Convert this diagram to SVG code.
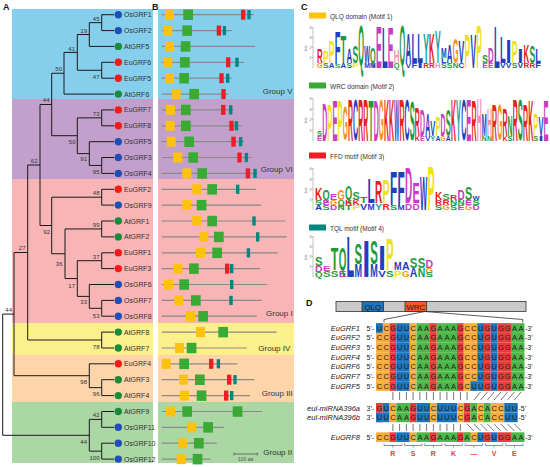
<svg xmlns="http://www.w3.org/2000/svg" xmlns:xlink="http://www.w3.org/1999/xlink" width="550" height="467" viewBox="0 0 550 467">
<style>
text{font-family:"Liberation Sans",Arial,sans-serif}
.pl{font-size:9px;font-weight:bold;fill:#111}
.bs{font-size:6px;fill:#333;text-anchor:end}
.lf{font-size:7px;fill:#333}
.br{fill:none;stroke:#1a1a1a;stroke-width:1}
.gl{font-size:8px;fill:#333}
.ml{stroke:#8a8a8a;stroke-width:1.2}
.my{fill:#fdc20e}.mg{fill:#3aaa35}.mr{fill:#ee1c25}.mt{fill:#00877f}
.db{fill:#1f4fb5}.dr{fill:#f31a1a}.dg{fill:#1b8a3a}
.L{font-size:10px;font-weight:bold}
.cb{fill:#1f3fbf}.cg{fill:#1e9a3c}.cr{fill:#e3231c}.cm{fill:#c93cc0}.cy{fill:#eee21a}.co{fill:#f39321}.ct{fill:#16a2a2}.cp{fill:#f48fb8}
.ax{stroke:#666;stroke-width:0.4}
.at{font-size:3.5px;fill:#666}
.lg{font-size:6.5px;fill:#333}
.nA{fill:#4cb848}.nC{fill:#f9ae3b}.nG{fill:#ec3a3a}.nU{fill:#1b75bc}
.nt{font-size:7.5px;fill:#222;text-anchor:middle}
.rl{font-size:7.5px;font-style:italic;fill:#222;text-anchor:end}
.pr{font-size:7px;fill:#222}
.pair{stroke:#555;stroke-width:0.8}
.brk{fill:none;stroke:#3a87c8;stroke-width:0.8}
.aa{font-size:7px;font-weight:bold;fill:#e63a2e;text-anchor:middle}
</style>
<defs>
<g id="base">
<rect class="nC" x="376" y="0" width="13.5" height="9.67"/>
<rect class="nG" x="389.5" y="0" width="6.75" height="9.67"/>
<rect class="nU" x="396.25" y="0" width="13.5" height="9.67"/>
<rect class="nC" x="409.75" y="0" width="6.75" height="9.67"/>
<rect class="nA" x="416.5" y="0" width="13.5" height="9.67"/>
<rect class="nG" x="430" y="0" width="6.75" height="9.67"/>
<rect class="nA" x="436.75" y="0" width="20.25" height="9.67"/>
<rect class="nG" x="457" y="0" width="6.75" height="9.67"/>
<rect class="nC" x="463.75" y="0" width="13.5" height="9.67"/>
<rect class="nU" x="477.25" y="0" width="6.75" height="9.67"/>
<rect class="nG" x="484" y="0" width="6.75" height="9.67"/>
<rect class="nU" x="490.75" y="0" width="6.75" height="9.67"/>
<rect class="nG" x="497.5" y="0" width="13.5" height="9.67"/>
<rect class="nA" x="511" y="0" width="13.5" height="9.67"/>
<text class="nt" x="379.4 386.1 392.9 399.6 406.4 413.1 419.9 426.6 433.4 440.1 446.9 453.6 460.4 467.1 473.9 480.6 487.4 494.1 500.9 507.6 514.4 521.1" y="7.5">CCGUUCAAGAAAGCCUGUGGAA</text>
</g>
<g id="mir">
<rect class="nG" x="376" y="0" width="6.75" height="9.6"/>
<rect class="nU" x="382.75" y="0" width="6.75" height="9.6"/>
<rect class="nC" x="389.5" y="0" width="6.75" height="9.6"/>
<rect class="nA" x="396.25" y="0" width="13.5" height="9.6"/>
<rect class="nG" x="409.75" y="0" width="6.75" height="9.6"/>
<rect class="nU" x="416.5" y="0" width="13.5" height="9.6"/>
<rect class="nC" x="430" y="0" width="6.75" height="9.6"/>
<rect class="nU" x="436.75" y="0" width="20.25" height="9.6"/>
<rect class="nC" x="457" y="0" width="6.75" height="9.6"/>
<rect class="nG" x="463.75" y="0" width="6.75" height="9.6"/>
<rect class="nA" x="470.5" y="0" width="6.75" height="9.6"/>
<rect class="nC" x="477.25" y="0" width="6.75" height="9.6"/>
<rect class="nA" x="484" y="0" width="6.75" height="9.6"/>
<rect class="nC" x="490.75" y="0" width="13.5" height="9.6"/>
<rect class="nU" x="504.25" y="0" width="13.5" height="9.6"/>
<text class="nt" x="379.4 386.1 392.9 399.6 406.4 413.1 419.9 426.6 433.4 440.1 446.9 453.6 460.4 467.1 473.9 480.6 487.4 494.1 500.9 507.6 514.4" y="7.5">GUCAAGUUCUUUCGACACCUU</text>
</g>
</defs>

<!-- background bands -->
<g id="bands">
<rect x="12" y="9" width="141" height="90" fill="#86cfec"/>
<rect x="12" y="99" width="141" height="80" fill="#c3a0cc"/>
<rect x="12" y="179" width="141" height="144" fill="#f9b5b6"/>
<rect x="12" y="323" width="141" height="32" fill="#fbf08c"/>
<rect x="12" y="355" width="141" height="47" fill="#fdd5a8"/>
<rect x="12" y="402" width="141" height="61" fill="#aad7a4"/>
<rect x="158" y="9" width="136" height="90" fill="#86cfec"/>
<rect x="158" y="99" width="136" height="80" fill="#c3a0cc"/>
<rect x="158" y="179" width="136" height="144" fill="#f9b5b6"/>
<rect x="158" y="323" width="136" height="32" fill="#fbf08c"/>
<rect x="158" y="355" width="136" height="47" fill="#fdd5a8"/>
<rect x="158" y="402" width="136" height="61" fill="#aad7a4"/>
</g>

<g id="panel-labels">
<text class="pl" x="3" y="10">A</text>
<text class="pl" x="152" y="10">B</text>
<text class="pl" x="301" y="10">C</text>
<text class="pl" x="306" y="306">D</text>
</g>

<!-- tree connectors -->
<g id="tree-branches" class="br">
<path d="M114 14.7H101.7V30.6H114"/>
<path d="M101.7 22.65H89.3V46.4H114"/>
<path d="M114 62.3H101.7V78.2H114"/>
<path d="M89.3 34.5H77.3V70.25H101.7"/>
<path d="M77.3 52.4H64V94.1H114"/>
<path d="M114 109.9H101.7V125.8H114"/>
<path d="M114 157.5H101.7V173.4H114"/>
<path d="M114 141.7H89.3V165.45H101.7"/>
<path d="M101.7 117.85H77.3V153.6H89.3"/>
<path d="M64 73.25H51.7V135.7H77.3"/>
<path d="M114 189.3H101.7V205.1H114"/>
<path d="M114 221H101.7V236.9H114"/>
<path d="M114 252.8H101.7V268.6H114"/>
<path d="M114 300.4H101.7V316.2H114"/>
<path d="M114 284.5H89.3V308.3H101.7"/>
<path d="M101.7 260.7H77.3V296.4H89.3"/>
<path d="M101.7 228.95H65V278.55H77.3"/>
<path d="M101.7 197.2H51.7V253.75H65"/>
<path d="M51.7 104.5H40V225.5H51.7"/>
<path d="M114 332.1H101.7V348H114"/>
<path d="M40 165H27.7V340H101.7"/>
<path d="M114 379.7H101.7V395.6H114"/>
<path d="M114 363.8H89.3V387.65H101.7"/>
<path d="M27.7 252.5H14V375.7H89.3"/>
<path d="M114 411.5H101.7V427.3H114"/>
<path d="M114 443.2H101.7V459.1H114"/>
<path d="M101.7 419.4H89.3V451.15H101.7"/>
<path d="M14 314.1H2.7V435.3H89.3"/>
</g>

<g id="bootstrap">
<text class="bs" x="99.5" y="20.5">45</text>
<text class="bs" x="87" y="32.5">19</text>
<text class="bs" x="75" y="50.5">41</text>
<text class="bs" x="62" y="71">50</text>
<text class="bs" x="99.5" y="78.5">47</text>
<text class="bs" x="99.5" y="115.5">73</text>
<text class="bs" x="75.5" y="144">50</text>
<text class="bs" x="87" y="160.5">91</text>
<text class="bs" x="99.5" y="173.5">95</text>
<text class="bs" x="49.5" y="101.5">44</text>
<text class="bs" x="37.5" y="162.5">62</text>
<text class="bs" x="99.5" y="195">48</text>
<text class="bs" x="50" y="234">92</text>
<text class="bs" x="99.5" y="227">99</text>
<text class="bs" x="62.5" y="266">36</text>
<text class="bs" x="99.5" y="258.8">37</text>
<text class="bs" x="75" y="287.5">17</text>
<text class="bs" x="87" y="303.5">33</text>
<text class="bs" x="99.5" y="317.5">53</text>
<text class="bs" x="25.5" y="250">27</text>
<text class="bs" x="99.5" y="348.5">78</text>
<text class="bs" x="12" y="311.5">44</text>
<text class="bs" x="87" y="383.5">98</text>
<text class="bs" x="99.5" y="395.5">96</text>
<text class="bs" x="99.5" y="416.5">42</text>
<text class="bs" x="87" y="444">44</text>
<text class="bs" x="99.5" y="459.5">100</text>
</g>

<g id="leaves">
<circle class="db" cx="118.3" cy="14.7" r="3.7"/><text class="lf" x="124" y="17.2">OsGRF1</text>
<circle class="db" cx="118.3" cy="30.6" r="3.7"/><text class="lf" x="124" y="33.1">OsGRF2</text>
<circle class="dg" cx="118.3" cy="46.4" r="3.7"/><text class="lf" x="124" y="48.9">AtGRF5</text>
<circle class="dr" cx="118.3" cy="62.3" r="3.7"/><text class="lf" x="124" y="64.8">EuGRF6</text>
<circle class="dr" cx="118.3" cy="78.2" r="3.7"/><text class="lf" x="124" y="80.7">EuGRF5</text>
<circle class="dg" cx="118.3" cy="94.1" r="3.7"/><text class="lf" x="124" y="96.6">AtGRF6</text>
<circle class="dr" cx="118.3" cy="109.9" r="3.7"/><text class="lf" x="124" y="112.4">EuGRF7</text>
<circle class="dr" cx="118.3" cy="125.8" r="3.7"/><text class="lf" x="124" y="128.3">EuGRF8</text>
<circle class="db" cx="118.3" cy="141.7" r="3.7"/><text class="lf" x="124" y="144.2">OsGRF5</text>
<circle class="db" cx="118.3" cy="157.5" r="3.7"/><text class="lf" x="124" y="160">OsGRF3</text>
<circle class="db" cx="118.3" cy="173.4" r="3.7"/><text class="lf" x="124" y="175.9">OsGRF4</text>
<circle class="dr" cx="118.3" cy="189.3" r="3.7"/><text class="lf" x="124" y="191.8">EuGRF2</text>
<circle class="db" cx="118.3" cy="205.1" r="3.7"/><text class="lf" x="124" y="207.6">OsGRF9</text>
<circle class="dg" cx="118.3" cy="221" r="3.7"/><text class="lf" x="124" y="223.5">AtGRF1</text>
<circle class="dg" cx="118.3" cy="236.9" r="3.7"/><text class="lf" x="124" y="239.4">AtGRF2</text>
<circle class="dr" cx="118.3" cy="252.8" r="3.7"/><text class="lf" x="124" y="255.3">EuGRF1</text>
<circle class="dr" cx="118.3" cy="268.6" r="3.7"/><text class="lf" x="124" y="271.1">EuGRF3</text>
<circle class="db" cx="118.3" cy="284.5" r="3.7"/><text class="lf" x="124" y="287">OsGRF6</text>
<circle class="db" cx="118.3" cy="300.4" r="3.7"/><text class="lf" x="124" y="302.9">OsGRF7</text>
<circle class="db" cx="118.3" cy="316.2" r="3.7"/><text class="lf" x="124" y="318.7">OsGRF8</text>
<circle class="dg" cx="118.3" cy="332.1" r="3.7"/><text class="lf" x="124" y="334.6">AtGRF8</text>
<circle class="dg" cx="118.3" cy="348" r="3.7"/><text class="lf" x="124" y="350.5">AtGRF7</text>
<circle class="dr" cx="118.3" cy="363.8" r="3.7"/><text class="lf" x="124" y="366.3">EuGRF4</text>
<circle class="dg" cx="118.3" cy="379.7" r="3.7"/><text class="lf" x="124" y="382.2">AtGRF3</text>
<circle class="dg" cx="118.3" cy="395.6" r="3.7"/><text class="lf" x="124" y="398.1">AtGRF4</text>
<circle class="dg" cx="118.3" cy="411.5" r="3.7"/><text class="lf" x="124" y="414">AtGRF9</text>
<circle class="db" cx="118.3" cy="427.3" r="3.7"/><text class="lf" x="124" y="429.8">OsGRF11</text>
<circle class="db" cx="118.3" cy="443.2" r="3.7"/><text class="lf" x="124" y="445.7">OsGRF10</text>
<circle class="db" cx="118.3" cy="459.1" r="3.7"/><text class="lf" x="124" y="461.6">OsGRF12</text>
</g>

<!-- panel B motif structures -->
<g id="motif-lines" class="ml">
<line x1="161.7" y1="14.7" x2="254" y2="14.7"/>
<line x1="161.7" y1="30.6" x2="231.7" y2="30.6"/>
<line x1="161.7" y1="46.4" x2="255" y2="46.4"/>
<line x1="161.7" y1="62.3" x2="244" y2="62.3"/>
<line x1="161.7" y1="78.2" x2="231.7" y2="78.2"/>
<line x1="161.7" y1="94.1" x2="228.3" y2="94.1"/>
<line x1="161.7" y1="109.9" x2="233.3" y2="109.9"/>
<line x1="161.7" y1="125.8" x2="241.7" y2="125.8"/>
<line x1="161.7" y1="141.7" x2="244" y2="141.7"/>
<line x1="161.7" y1="157.5" x2="251.7" y2="157.5"/>
<line x1="161.7" y1="173.4" x2="257.3" y2="173.4"/>
<line x1="161.7" y1="189.3" x2="255.7" y2="189.3"/>
<line x1="161.7" y1="205.1" x2="261" y2="205.1"/>
<line x1="161.7" y1="221" x2="285" y2="221"/>
<line x1="161.7" y1="236.9" x2="286.7" y2="236.9"/>
<line x1="161.7" y1="252.8" x2="277.7" y2="252.8"/>
<line x1="161.7" y1="268.6" x2="260" y2="268.6"/>
<line x1="161.7" y1="284.5" x2="267.3" y2="284.5"/>
<line x1="161.7" y1="300.4" x2="261.7" y2="300.4"/>
<line x1="161.7" y1="316.2" x2="256.7" y2="316.2"/>
<line x1="161.7" y1="332.1" x2="276.7" y2="332.1"/>
<line x1="161.7" y1="348" x2="246.7" y2="348"/>
<line x1="161.7" y1="363.8" x2="237.3" y2="363.8"/>
<line x1="161.7" y1="379.7" x2="254.3" y2="379.7"/>
<line x1="161.7" y1="395.6" x2="250" y2="395.6"/>
<line x1="161.7" y1="411.5" x2="262.3" y2="411.5"/>
<line x1="161.7" y1="427.3" x2="224.3" y2="427.3"/>
<line x1="161.7" y1="443.2" x2="216.7" y2="443.2"/>
<line x1="161.7" y1="459.1" x2="210.7" y2="459.1"/>
</g>
<g id="motif-qlq" class="my">
<rect x="165" y="9.7" width="9" height="10"/>
<rect x="163.3" y="25.6" width="9" height="10"/>
<rect x="165" y="41.4" width="9" height="10"/>
<rect x="163.3" y="57.3" width="9" height="10"/>
<rect x="165" y="73.2" width="9" height="10"/>
<rect x="171.7" y="89.1" width="9" height="10"/>
<rect x="166" y="104.9" width="9" height="10"/>
<rect x="165.7" y="120.8" width="9" height="10"/>
<rect x="166.7" y="136.7" width="9" height="10"/>
<rect x="173.3" y="152.5" width="9" height="10"/>
<rect x="182.3" y="168.4" width="9" height="10"/>
<rect x="192.3" y="184.3" width="9" height="10"/>
<rect x="182.3" y="200.1" width="9" height="10"/>
<rect x="192.3" y="216" width="9" height="10"/>
<rect x="199.3" y="231.9" width="9" height="10"/>
<rect x="196" y="247.8" width="9" height="10"/>
<rect x="173.3" y="263.6" width="9" height="10"/>
<rect x="164" y="279.5" width="9" height="10"/>
<rect x="174.3" y="295.4" width="9" height="10"/>
<rect x="186" y="311.2" width="9" height="10"/>
<rect x="196" y="327.1" width="9" height="10"/>
<rect x="175" y="343" width="9" height="10"/>
<rect x="161.7" y="358.8" width="9" height="10"/>
<rect x="179" y="374.7" width="9" height="10"/>
<rect x="180" y="390.6" width="9" height="10"/>
<rect x="166" y="406.5" width="9" height="10"/>
<rect x="187.3" y="422.3" width="9" height="10"/>
<rect x="178.3" y="438.2" width="9" height="10"/>
<rect x="176.7" y="454.1" width="9" height="10"/>
</g>
<g id="motif-wrc" class="mg">
<rect x="183.3" y="9.5" width="9.7" height="10.5"/>
<rect x="182.3" y="25.4" width="9.7" height="10.5"/>
<rect x="180.7" y="41.2" width="9.7" height="10.5"/>
<rect x="180" y="57.1" width="9.7" height="10.5"/>
<rect x="179.3" y="73" width="9.7" height="10.5"/>
<rect x="189.3" y="88.9" width="9.7" height="10.5"/>
<rect x="181" y="104.7" width="9.7" height="10.5"/>
<rect x="181" y="120.6" width="9.7" height="10.5"/>
<rect x="184.3" y="136.5" width="9.7" height="10.5"/>
<rect x="188.3" y="152.3" width="9.7" height="10.5"/>
<rect x="197.3" y="168.2" width="9.7" height="10.5"/>
<rect x="207.3" y="184.1" width="9.7" height="10.5"/>
<rect x="196.7" y="199.9" width="9.7" height="10.5"/>
<rect x="207.3" y="215.8" width="9.7" height="10.5"/>
<rect x="214" y="231.7" width="9.7" height="10.5"/>
<rect x="212.3" y="247.6" width="9.7" height="10.5"/>
<rect x="189" y="263.4" width="9.7" height="10.5"/>
<rect x="179.3" y="279.3" width="9.7" height="10.5"/>
<rect x="191" y="295.2" width="9.7" height="10.5"/>
<rect x="198.3" y="311" width="9.7" height="10.5"/>
<rect x="218.3" y="326.9" width="9.7" height="10.5"/>
<rect x="186.7" y="342.8" width="9.7" height="10.5"/>
<rect x="179.3" y="358.6" width="9.7" height="10.5"/>
<rect x="195" y="374.5" width="9.7" height="10.5"/>
<rect x="196.7" y="390.4" width="9.7" height="10.5"/>
<rect x="182.3" y="406.3" width="9.7" height="10.5"/>
<rect x="232.7" y="406.3" width="9.7" height="10.5"/>
<rect x="203.3" y="422.1" width="9.7" height="10.5"/>
<rect x="194" y="438" width="9.7" height="10.5"/>
<rect x="192.7" y="453.9" width="9.7" height="10.5"/>
</g>
<g id="motif-ffd" class="mr">
<rect x="241" y="9.7" width="4.4" height="10"/>
<rect x="216.7" y="25.6" width="4.4" height="10"/>
<rect x="226" y="57.3" width="4.4" height="10"/>
<rect x="219.3" y="73.2" width="4.4" height="10"/>
<rect x="221.3" y="89.1" width="4.4" height="10"/>
<rect x="221" y="104.9" width="4.4" height="10"/>
<rect x="229.3" y="120.8" width="4.4" height="10"/>
<rect x="231.3" y="136.7" width="4.4" height="10"/>
<rect x="237.3" y="152.5" width="4.4" height="10"/>
<rect x="245.7" y="168.4" width="4.4" height="10"/>
<rect x="225" y="263.6" width="4.4" height="10"/>
<rect x="209" y="358.8" width="4.4" height="10"/>
<rect x="227" y="374.7" width="4.4" height="10"/>
<rect x="224" y="390.6" width="4.4" height="10"/>
</g>
<g id="motif-tql" class="mt">
<rect x="247.3" y="10.1" width="3.4" height="9.2"/>
<rect x="222.7" y="26" width="3.4" height="9.2"/>
<rect x="235.3" y="57.7" width="3.4" height="9.2"/>
<rect x="226" y="73.6" width="3.4" height="9.2"/>
<rect x="229" y="105.3" width="3.4" height="9.2"/>
<rect x="234.7" y="121.2" width="3.4" height="9.2"/>
<rect x="239" y="137.1" width="3.4" height="9.2"/>
<rect x="244.7" y="152.9" width="3.4" height="9.2"/>
<rect x="253.3" y="168.8" width="3.4" height="9.2"/>
<rect x="236" y="184.7" width="3.4" height="9.2"/>
<rect x="252.3" y="216.4" width="3.4" height="9.2"/>
<rect x="256" y="232.3" width="3.4" height="9.2"/>
<rect x="246.7" y="248.2" width="3.4" height="9.2"/>
<rect x="230" y="264" width="3.4" height="9.2"/>
<rect x="230" y="279.9" width="3.4" height="9.2"/>
<rect x="229.3" y="295.8" width="3.4" height="9.2"/>
<rect x="216.7" y="359.2" width="3.4" height="9.2"/>
<rect x="233.3" y="375.1" width="3.4" height="9.2"/>
<rect x="230" y="391" width="3.4" height="9.2"/>
</g>
<g id="groups">
<text class="gl" x="262.7" y="93.5">Group V</text>
<text class="gl" x="260.7" y="172">Group VI</text>
<text class="gl" x="266" y="316">Group I</text>
<text class="gl" x="258.3" y="351">Group IV</text>
<text class="gl" x="261.7" y="396">Group III</text>
<text class="gl" x="263.3" y="455">Group II</text>
</g>
<g id="scale-bar">
<path d="M234 454H257.3M234 452.5V455.5M257.3 452.5V455.5" stroke="#555" stroke-width="0.8" fill="none"/>
<text x="245.7" y="461" font-size="5" fill="#555" text-anchor="middle">100 aa</text>
</g>

<!-- panel C legends -->
<g id="legends">
<rect x="309" y="12.5" width="17" height="6" fill="#fdc20e"/>
<text class="lg" x="330" y="18.5">QLQ domain (Motif 1)</text>
<rect x="309" y="82.5" width="17" height="6" fill="#3aaa35"/>
<text class="lg" x="330" y="88.5">WRC domain (Motif 2)</text>
<rect x="309" y="152.5" width="17" height="6" fill="#ee1c25"/>
<text class="lg" x="330" y="158.5">FFD motif (Motif 3)</text>
<rect x="309" y="224.5" width="17" height="6" fill="#00877f"/>
<text class="lg" x="330" y="230.5">TQL motif  (Motif 4)</text>
</g>
<g id="logo-axes">
<path class="ax" d="M313 27V68M311.5 27.5H313M311.5 37.5H313M311.5 47.5H313M311.5 57.5H313M313 98V141M311.5 98.5H313M311.5 109H313M311.5 119.5H313M311.5 130H313M313 168V210M311.5 168.5H313M311.5 179H313M311.5 189H313M311.5 199.5H313M313 236V277M311.5 236.5H313M311.5 246.5H313M311.5 256.5H313M311.5 266.5H313"/>
<text class="at" x="309.5" y="29">4</text><text class="at" x="309.5" y="39">3</text><text class="at" x="309.5" y="49">2</text><text class="at" x="309.5" y="59">1</text>
<text class="at" transform="matrix(0 -1 1 0 307 51)">bits</text>
<text class="at" x="309.5" y="100">4</text><text class="at" x="309.5" y="110.5">3</text><text class="at" x="309.5" y="121">2</text><text class="at" x="309.5" y="131.5">1</text>
<text class="at" transform="matrix(0 -1 1 0 307 123)">bits</text>
<text class="at" x="309.5" y="170">4</text><text class="at" x="309.5" y="180.5">3</text><text class="at" x="309.5" y="190.5">2</text><text class="at" x="309.5" y="201">1</text>
<text class="at" transform="matrix(0 -1 1 0 307 193)">bits</text>
<text class="at" x="309.5" y="238">4</text><text class="at" x="309.5" y="248">3</text><text class="at" x="309.5" y="258">2</text><text class="at" x="309.5" y="268">1</text>
<text class="at" transform="matrix(0 -1 1 0 307 260)">bits</text>
</g>

<g id="logo1">
<text class="L cr" textLength="5.7" lengthAdjust="spacingAndGlyphs" transform="matrix(1 0 0 1.94 317 63)">R</text>
<text class="L co" textLength="5.7" lengthAdjust="spacingAndGlyphs" transform="matrix(1 0 0 .69 317 68)">G</text>
<text class="L cy" textLength="5.7" lengthAdjust="spacingAndGlyphs" transform="matrix(1 0 0 1.67 322.9 63)">P</text>
<text class="L cg" textLength="5.7" lengthAdjust="spacingAndGlyphs" transform="matrix(1 0 0 .69 322.9 68)">S</text>
<text class="L cy" textLength="5.7" lengthAdjust="spacingAndGlyphs" transform="matrix(1 0 0 3.19 328.8 63)">P</text>
<text class="L cb" textLength="5.7" lengthAdjust="spacingAndGlyphs" transform="matrix(1 0 0 .69 328.8 68)">A</text>
<text class="L cb" textLength="5.7" lengthAdjust="spacingAndGlyphs" transform="matrix(1 0 0 4.58 334.7 64)">F</text>
<text class="L cg" textLength="5.7" lengthAdjust="spacingAndGlyphs" transform="matrix(1 0 0 .56 334.7 68)">S</text>
<text class="L cg" textLength="5.7" lengthAdjust="spacingAndGlyphs" transform="matrix(1 0 0 3.89 340.6 63)">T</text>
<text class="L cb" textLength="5.7" lengthAdjust="spacingAndGlyphs" transform="matrix(1 0 0 .69 340.6 68)">A</text>
<text class="L cb" textLength="5.7" lengthAdjust="spacingAndGlyphs" transform="matrix(1 0 0 2.08 346.5 63)">A</text>
<text class="L cg" textLength="5.7" lengthAdjust="spacingAndGlyphs" transform="matrix(1 0 0 .69 346.5 68)">S</text>
<text class="L cg" textLength="5.7" lengthAdjust="spacingAndGlyphs" transform="matrix(1 0 0 2.36 352.4 63)">S</text>
<text class="L cy" textLength="5.7" lengthAdjust="spacingAndGlyphs" transform="matrix(1 0 0 .69 352.4 68)">P</text>
<text class="L cg" textLength="5.7" lengthAdjust="spacingAndGlyphs" transform="matrix(1 0 0 5.83 358.3 66)">Q</text>
<text class="L cb" textLength="5.7" lengthAdjust="spacingAndGlyphs" transform="matrix(1 0 0 2.36 364.2 63)">W</text>
<text class="L cb" textLength="5.7" lengthAdjust="spacingAndGlyphs" transform="matrix(1 0 0 .69 364.2 68)">M</text>
<text class="L cg" textLength="5.7" lengthAdjust="spacingAndGlyphs" transform="matrix(1 0 0 2.22 370.1 63)">Q</text>
<text class="L cb" textLength="5.7" lengthAdjust="spacingAndGlyphs" transform="matrix(1 0 0 .69 370.1 68)">M</text>
<text class="L cm" textLength="5.7" lengthAdjust="spacingAndGlyphs" transform="matrix(1 0 0 5.97 376 68)">E</text>
<text class="L cb" textLength="5.7" lengthAdjust="spacingAndGlyphs" transform="matrix(1 0 0 5.69 381.9 68)">L</text>
<text class="L cm" textLength="5.7" lengthAdjust="spacingAndGlyphs" transform="matrix(1 0 0 5.69 387.8 68)">E</text>
<text class="L cp" textLength="5.7" lengthAdjust="spacingAndGlyphs" transform="matrix(1 0 0 1.81 393.7 63)">H</text>
<text class="L cg" textLength="5.7" lengthAdjust="spacingAndGlyphs" transform="matrix(1 0 0 .69 393.7 68)">Q</text>
<text class="L cg" textLength="5.7" lengthAdjust="spacingAndGlyphs" transform="matrix(1 0 0 5.69 399.6 66)">Q</text>
<text class="L cb" textLength="5.7" lengthAdjust="spacingAndGlyphs" transform="matrix(1 0 0 4.17 405.5 63)">A</text>
<text class="L cb" textLength="5.7" lengthAdjust="spacingAndGlyphs" transform="matrix(1 0 0 .69 405.5 68)">V</text>
<text class="L cb" textLength="5.7" lengthAdjust="spacingAndGlyphs" transform="matrix(1 0 0 4.31 411.4 63)">L</text>
<text class="L cb" textLength="5.7" lengthAdjust="spacingAndGlyphs" transform="matrix(1 0 0 .69 411.4 68)">F</text>
<text class="L cb" textLength="5.7" lengthAdjust="spacingAndGlyphs" transform="matrix(1 0 0 4.31 417.3 63)">L</text>
<text class="L cb" textLength="5.7" lengthAdjust="spacingAndGlyphs" transform="matrix(1 0 0 .69 417.3 68)">I</text>
<text class="L ct" textLength="5.7" lengthAdjust="spacingAndGlyphs" transform="matrix(1 0 0 4.17 423.2 63)">Y</text>
<text class="L cr" textLength="5.7" lengthAdjust="spacingAndGlyphs" transform="matrix(1 0 0 .69 423.2 68)">R</text>
<text class="L cr" textLength="5.7" lengthAdjust="spacingAndGlyphs" transform="matrix(1 0 0 4.31 429.1 63)">K</text>
<text class="L cr" textLength="5.7" lengthAdjust="spacingAndGlyphs" transform="matrix(1 0 0 .69 429.1 68)">R</text>
<text class="L ct" textLength="5.7" lengthAdjust="spacingAndGlyphs" transform="matrix(1 0 0 4.58 435 63)">Y</text>
<text class="L cp" textLength="5.7" lengthAdjust="spacingAndGlyphs" transform="matrix(1 0 0 .69 435 68)">H</text>
<text class="L cb" textLength="5.7" lengthAdjust="spacingAndGlyphs" transform="matrix(1 0 0 1.53 440.9 58)">M</text>
<text class="L cb" textLength="5.7" lengthAdjust="spacingAndGlyphs" transform="matrix(1 0 0 .69 440.9 63)">L</text>
<text class="L cg" textLength="5.7" lengthAdjust="spacingAndGlyphs" transform="matrix(1 0 0 .69 440.9 68)">S</text>
<text class="L cb" textLength="5.7" lengthAdjust="spacingAndGlyphs" transform="matrix(1 0 0 2.64 446.8 63)">A</text>
<text class="L cg" textLength="5.7" lengthAdjust="spacingAndGlyphs" transform="matrix(1 0 0 .69 446.8 68)">S</text>
<text class="L co" textLength="5.7" lengthAdjust="spacingAndGlyphs" transform="matrix(1 0 0 3.47 452.7 63)">G</text>
<text class="L cg" textLength="5.7" lengthAdjust="spacingAndGlyphs" transform="matrix(1 0 0 .69 452.7 68)">N</text>
<text class="L cb" textLength="5.7" lengthAdjust="spacingAndGlyphs" transform="matrix(1 0 0 3.19 458.6 63)">V</text>
<text class="L cb" textLength="5.7" lengthAdjust="spacingAndGlyphs" transform="matrix(1 0 0 .69 458.6 68)">C</text>
<text class="L cy" textLength="5.7" lengthAdjust="spacingAndGlyphs" transform="matrix(1 0 0 4.86 464.5 68)">P</text>
<text class="L cb" textLength="5.7" lengthAdjust="spacingAndGlyphs" transform="matrix(1 0 0 4.86 470.4 68)">V</text>
<text class="L cy" textLength="5.7" lengthAdjust="spacingAndGlyphs" transform="matrix(1 0 0 6.11 476.3 68)">P</text>
<text class="L cg" textLength="5.7" lengthAdjust="spacingAndGlyphs" transform="matrix(1 0 0 1.11 482.2 63)">S</text>
<text class="L cm" textLength="5.7" lengthAdjust="spacingAndGlyphs" transform="matrix(1 0 0 .69 482.2 68)">E</text>
<text class="L cm" textLength="5.7" lengthAdjust="spacingAndGlyphs" transform="matrix(1 0 0 2.22 488.1 63)">D</text>
<text class="L cm" textLength="5.7" lengthAdjust="spacingAndGlyphs" transform="matrix(1 0 0 .69 488.1 68)">E</text>
<text class="L cb" textLength="5.7" lengthAdjust="spacingAndGlyphs" transform="matrix(1 0 0 5.97 494 68)">L</text>
<text class="L cb" textLength="5.7" lengthAdjust="spacingAndGlyphs" transform="matrix(1 0 0 3.61 499.9 63)">L</text>
<text class="L cb" textLength="5.7" lengthAdjust="spacingAndGlyphs" transform="matrix(1 0 0 .69 499.9 68)">V</text>
<text class="L cb" textLength="5.7" lengthAdjust="spacingAndGlyphs" transform="matrix(1 0 0 3.33 505.8 63)">I</text>
<text class="L cb" textLength="5.7" lengthAdjust="spacingAndGlyphs" transform="matrix(1 0 0 .69 505.8 68)">V</text>
<text class="L cy" textLength="5.7" lengthAdjust="spacingAndGlyphs" transform="matrix(1 0 0 3.06 511.7 63)">P</text>
<text class="L cg" textLength="5.7" lengthAdjust="spacingAndGlyphs" transform="matrix(1 0 0 .69 511.7 68)">S</text>
<text class="L cb" textLength="5.7" lengthAdjust="spacingAndGlyphs" transform="matrix(1 0 0 2.08 517.6 63)">I</text>
<text class="L cb" textLength="5.7" lengthAdjust="spacingAndGlyphs" transform="matrix(1 0 0 .69 517.6 68)">V</text>
<text class="L cr" textLength="5.7" lengthAdjust="spacingAndGlyphs" transform="matrix(1 0 0 2.5 523.5 63)">K</text>
<text class="L cr" textLength="5.7" lengthAdjust="spacingAndGlyphs" transform="matrix(1 0 0 .69 523.5 68)">R</text>
<text class="L cg" textLength="5.7" lengthAdjust="spacingAndGlyphs" transform="matrix(1 0 0 2.36 529.4 63)">S</text>
<text class="L cr" textLength="5.7" lengthAdjust="spacingAndGlyphs" transform="matrix(1 0 0 .69 529.4 68)">R</text>
<text class="L cb" textLength="5.7" lengthAdjust="spacingAndGlyphs" transform="matrix(1 0 0 1.94 535.3 63)">L</text>
<text class="L cb" textLength="5.7" lengthAdjust="spacingAndGlyphs" transform="matrix(1 0 0 .69 535.3 68)">F</text>
</g>

<g id="logo2">
<text class="L cg" textLength="5" lengthAdjust="spacingAndGlyphs" transform="matrix(1 0 0 .69 317 136)">S</text>
<text class="L cm" textLength="5" lengthAdjust="spacingAndGlyphs" transform="matrix(1 0 0 .69 317 141)">E</text>
<text class="L cm" textLength="5" lengthAdjust="spacingAndGlyphs" transform="matrix(1 0 0 5.28 322.15 141)">D</text>
<text class="L cy" textLength="5" lengthAdjust="spacingAndGlyphs" transform="matrix(1 0 0 5.14 327.3 141)">P</text>
<text class="L cm" textLength="5" lengthAdjust="spacingAndGlyphs" transform="matrix(1 0 0 5.69 332.45 141)">E</text>
<text class="L cy" textLength="5" lengthAdjust="spacingAndGlyphs" transform="matrix(1 0 0 5.83 337.6 141)">P</text>
<text class="L co" textLength="5" lengthAdjust="spacingAndGlyphs" transform="matrix(1 0 0 4.72 342.75 140)">G</text>
<text class="L cr" textLength="5" lengthAdjust="spacingAndGlyphs" transform="matrix(1 0 0 5.97 347.9 141)">R</text>
<text class="L cb" textLength="5" lengthAdjust="spacingAndGlyphs" transform="matrix(1 0 0 5.83 353.05 140)">C</text>
<text class="L cr" textLength="5" lengthAdjust="spacingAndGlyphs" transform="matrix(1 0 0 5.97 358.2 141)">R</text>
<text class="L cr" textLength="5" lengthAdjust="spacingAndGlyphs" transform="matrix(1 0 0 5.97 363.35 141)">R</text>
<text class="L cg" textLength="5" lengthAdjust="spacingAndGlyphs" transform="matrix(1 0 0 5.83 368.5 141)">T</text>
<text class="L cm" textLength="5" lengthAdjust="spacingAndGlyphs" transform="matrix(1 0 0 5.83 373.65 141)">D</text>
<text class="L co" textLength="5" lengthAdjust="spacingAndGlyphs" transform="matrix(1 0 0 5.69 378.8 140)">G</text>
<text class="L cr" textLength="5" lengthAdjust="spacingAndGlyphs" transform="matrix(1 0 0 5.97 383.95 141)">K</text>
<text class="L cr" textLength="5" lengthAdjust="spacingAndGlyphs" transform="matrix(1 0 0 5.97 389.1 141)">K</text>
<text class="L cb" textLength="5" lengthAdjust="spacingAndGlyphs" transform="matrix(1 0 0 5.97 394.25 141)">W</text>
<text class="L cr" textLength="5" lengthAdjust="spacingAndGlyphs" transform="matrix(1 0 0 5.97 399.4 141)">R</text>
<text class="L cb" textLength="5" lengthAdjust="spacingAndGlyphs" transform="matrix(1 0 0 5.83 404.55 140)">C</text>
<text class="L cg" textLength="5" lengthAdjust="spacingAndGlyphs" transform="matrix(1 0 0 5.56 409.7 140)">S</text>
<text class="L cr" textLength="5" lengthAdjust="spacingAndGlyphs" transform="matrix(1 0 0 4.03 414.85 136)">R</text>
<text class="L cr" textLength="5" lengthAdjust="spacingAndGlyphs" transform="matrix(1 0 0 .69 414.85 141)">K</text>
<text class="L cm" textLength="5" lengthAdjust="spacingAndGlyphs" transform="matrix(1 0 0 3.75 420 136)">D</text>
<text class="L cm" textLength="5" lengthAdjust="spacingAndGlyphs" transform="matrix(1 0 0 .69 420 141)">E</text>
<text class="L cb" textLength="5" lengthAdjust="spacingAndGlyphs" transform="matrix(1 0 0 3.06 425.15 136)">A</text>
<text class="L cb" textLength="5" lengthAdjust="spacingAndGlyphs" transform="matrix(1 0 0 .69 425.15 141)">V</text>
<text class="L cb" textLength="5" lengthAdjust="spacingAndGlyphs" transform="matrix(1 0 0 2.22 430.3 136)">V</text>
<text class="L ct" textLength="5" lengthAdjust="spacingAndGlyphs" transform="matrix(1 0 0 .69 430.3 141)">Y</text>
<text class="L cy" textLength="5" lengthAdjust="spacingAndGlyphs" transform="matrix(1 0 0 2.78 435.45 136)">P</text>
<text class="L cb" textLength="5" lengthAdjust="spacingAndGlyphs" transform="matrix(1 0 0 .69 435.45 141)">A</text>
<text class="L cm" textLength="5" lengthAdjust="spacingAndGlyphs" transform="matrix(1 0 0 3.19 440.6 136)">D</text>
<text class="L co" textLength="5" lengthAdjust="spacingAndGlyphs" transform="matrix(1 0 0 .69 440.6 141)">G</text>
<text class="L cg" textLength="5" lengthAdjust="spacingAndGlyphs" transform="matrix(1 0 0 3.61 445.75 136)">S</text>
<text class="L cb" textLength="5" lengthAdjust="spacingAndGlyphs" transform="matrix(1 0 0 .69 445.75 141)">A</text>
<text class="L cr" textLength="5" lengthAdjust="spacingAndGlyphs" transform="matrix(1 0 0 5.97 450.9 141)">K</text>
<text class="L ct" textLength="5" lengthAdjust="spacingAndGlyphs" transform="matrix(1 0 0 5.97 456.05 141)">Y</text>
<text class="L cb" textLength="5" lengthAdjust="spacingAndGlyphs" transform="matrix(1 0 0 5.83 461.2 140)">C</text>
<text class="L cm" textLength="5" lengthAdjust="spacingAndGlyphs" transform="matrix(1 0 0 5.97 466.35 141)">E</text>
<text class="L cr" textLength="5" lengthAdjust="spacingAndGlyphs" transform="matrix(1 0 0 5.83 471.5 141)">R</text>
<text class="L cp" textLength="5" lengthAdjust="spacingAndGlyphs" transform="matrix(1 0 0 6.11 476.65 141)">H</text>
<text class="L cb" textLength="5" lengthAdjust="spacingAndGlyphs" transform="matrix(1 0 0 3.19 481.8 136)">M</text>
<text class="L cg" textLength="5" lengthAdjust="spacingAndGlyphs" transform="matrix(1 0 0 .69 481.8 141)">N</text>
<text class="L cp" textLength="5" lengthAdjust="spacingAndGlyphs" transform="matrix(1 0 0 3.89 486.95 136)">H</text>
<text class="L cg" textLength="5" lengthAdjust="spacingAndGlyphs" transform="matrix(1 0 0 .69 486.95 141)">N</text>
<text class="L cr" textLength="5" lengthAdjust="spacingAndGlyphs" transform="matrix(1 0 0 5.14 492.1 141)">R</text>
<text class="L co" textLength="5" lengthAdjust="spacingAndGlyphs" transform="matrix(1 0 0 5 497.25 140)">G</text>
<text class="L cr" textLength="5" lengthAdjust="spacingAndGlyphs" transform="matrix(1 0 0 3.89 502.4 136)">R</text>
<text class="L cr" textLength="5" lengthAdjust="spacingAndGlyphs" transform="matrix(1 0 0 .69 502.4 141)">K</text>
<text class="L cg" textLength="5" lengthAdjust="spacingAndGlyphs" transform="matrix(1 0 0 2.92 507.55 136)">N</text>
<text class="L cg" textLength="5" lengthAdjust="spacingAndGlyphs" transform="matrix(1 0 0 .69 507.55 141)">S</text>
<text class="L cr" textLength="5" lengthAdjust="spacingAndGlyphs" transform="matrix(1 0 0 5.97 512.7 141)">R</text>
<text class="L cg" textLength="5" lengthAdjust="spacingAndGlyphs" transform="matrix(1 0 0 5.69 517.85 140)">S</text>
<text class="L cr" textLength="5" lengthAdjust="spacingAndGlyphs" transform="matrix(1 0 0 5.14 523 141)">R</text>
<text class="L cr" textLength="5" lengthAdjust="spacingAndGlyphs" transform="matrix(1 0 0 5.83 528.15 141)">K</text>
<text class="L cy" textLength="5" lengthAdjust="spacingAndGlyphs" transform="matrix(1 0 0 3.06 533.3 136)">P</text>
<text class="L cg" textLength="5" lengthAdjust="spacingAndGlyphs" transform="matrix(1 0 0 .69 533.3 141)">S</text>
<text class="L cb" textLength="5" lengthAdjust="spacingAndGlyphs" transform="matrix(1 0 0 2.78 538.45 136)">V</text>
<text class="L cb" textLength="5" lengthAdjust="spacingAndGlyphs" transform="matrix(1 0 0 .69 538.45 141)">I</text>
<text class="L cm" textLength="5" lengthAdjust="spacingAndGlyphs" transform="matrix(1 0 0 5.83 543.6 141)">E</text>
</g>

<g id="logo3">
<text class="L cr" textLength="7.2" lengthAdjust="spacingAndGlyphs" transform="matrix(1 0 0 1.67 315 200)">K</text>
<text class="L cg" textLength="7.2" lengthAdjust="spacingAndGlyphs" transform="matrix(1 0 0 .69 315 205)">S</text>
<text class="L cb" textLength="7.2" lengthAdjust="spacingAndGlyphs" transform="matrix(1 0 0 .69 315 210)">A</text>
<text class="L cg" textLength="7.2" lengthAdjust="spacingAndGlyphs" transform="matrix(1 0 0 1.39 322.5 200)">Q</text>
<text class="L cm" textLength="7.2" lengthAdjust="spacingAndGlyphs" transform="matrix(1 0 0 .69 322.5 205)">E</text>
<text class="L cg" textLength="7.2" lengthAdjust="spacingAndGlyphs" transform="matrix(1 0 0 .69 322.5 210)">S</text>
<text class="L cm" textLength="7.2" lengthAdjust="spacingAndGlyphs" transform="matrix(1 0 0 .97 330 200)">E</text>
<text class="L co" textLength="7.2" lengthAdjust="spacingAndGlyphs" transform="matrix(1 0 0 .69 330 205)">G</text>
<text class="L cm" textLength="7.2" lengthAdjust="spacingAndGlyphs" transform="matrix(1 0 0 .69 330 210)">D</text>
<text class="L co" textLength="7.2" lengthAdjust="spacingAndGlyphs" transform="matrix(1 0 0 1.53 337.5 200)">G</text>
<text class="L cg" textLength="7.2" lengthAdjust="spacingAndGlyphs" transform="matrix(1 0 0 .69 337.5 205)">Q</text>
<text class="L cg" textLength="7.2" lengthAdjust="spacingAndGlyphs" transform="matrix(1 0 0 .69 337.5 210)">N</text>
<text class="L cg" textLength="7.2" lengthAdjust="spacingAndGlyphs" transform="matrix(1 0 0 2.08 345 200)">Q</text>
<text class="L cr" textLength="7.2" lengthAdjust="spacingAndGlyphs" transform="matrix(1 0 0 .69 345 205)">K</text>
<text class="L cg" textLength="7.2" lengthAdjust="spacingAndGlyphs" transform="matrix(1 0 0 .69 345 210)">T</text>
<text class="L cg" textLength="7.2" lengthAdjust="spacingAndGlyphs" transform="matrix(1 0 0 1.11 352.5 200)">S</text>
<text class="L cr" textLength="7.2" lengthAdjust="spacingAndGlyphs" transform="matrix(1 0 0 .69 352.5 205)">K</text>
<text class="L cy" textLength="7.2" lengthAdjust="spacingAndGlyphs" transform="matrix(1 0 0 .69 352.5 210)">P</text>
<text class="L cg" textLength="7.2" lengthAdjust="spacingAndGlyphs" transform="matrix(1 0 0 .83 360 203)">T</text>
<text class="L cb" textLength="7.2" lengthAdjust="spacingAndGlyphs" transform="matrix(1 0 0 .97 360 210)">V</text>
<text class="L cb" textLength="7.2" lengthAdjust="spacingAndGlyphs" transform="matrix(1 0 0 3.47 367.5 203)">L</text>
<text class="L cb" textLength="7.2" lengthAdjust="spacingAndGlyphs" transform="matrix(1 0 0 .97 367.5 210)">M</text>
<text class="L cr" textLength="7.2" lengthAdjust="spacingAndGlyphs" transform="matrix(1 0 0 3.19 375 203)">R</text>
<text class="L ct" textLength="7.2" lengthAdjust="spacingAndGlyphs" transform="matrix(1 0 0 .97 375 210)">Y</text>
<text class="L cy" textLength="7.2" lengthAdjust="spacingAndGlyphs" transform="matrix(1 0 0 3.33 382.5 203)">P</text>
<text class="L cr" textLength="7.2" lengthAdjust="spacingAndGlyphs" transform="matrix(1 0 0 .97 382.5 210)">R</text>
<text class="L cb" textLength="7.2" lengthAdjust="spacingAndGlyphs" transform="matrix(1 0 0 4.86 390 205)">F</text>
<text class="L cg" textLength="7.2" lengthAdjust="spacingAndGlyphs" transform="matrix(1 0 0 .69 390 210)">S</text>
<text class="L cb" textLength="7.2" lengthAdjust="spacingAndGlyphs" transform="matrix(1 0 0 4.86 397.5 205)">F</text>
<text class="L cb" textLength="7.2" lengthAdjust="spacingAndGlyphs" transform="matrix(1 0 0 .69 397.5 210)">M</text>
<text class="L cm" textLength="7.2" lengthAdjust="spacingAndGlyphs" transform="matrix(1 0 0 5 405 203)">D</text>
<text class="L cm" textLength="7.2" lengthAdjust="spacingAndGlyphs" transform="matrix(1 0 0 .97 405 210)">D</text>
<text class="L cm" textLength="7.2" lengthAdjust="spacingAndGlyphs" transform="matrix(1 0 0 2.92 412.5 203)">E</text>
<text class="L cm" textLength="7.2" lengthAdjust="spacingAndGlyphs" transform="matrix(1 0 0 .97 412.5 210)">D</text>
<text class="L cb" textLength="7.2" lengthAdjust="spacingAndGlyphs" transform="matrix(1 0 0 4.72 420 210)">W</text>
<text class="L cy" textLength="7.2" lengthAdjust="spacingAndGlyphs" transform="matrix(1 0 0 6.25 427.5 210)">P</text>
<text class="L cr" textLength="7.2" lengthAdjust="spacingAndGlyphs" transform="matrix(1 0 0 1.11 435 200)">K</text>
<text class="L cr" textLength="7.2" lengthAdjust="spacingAndGlyphs" transform="matrix(1 0 0 .69 435 205)">R</text>
<text class="L cg" textLength="7.2" lengthAdjust="spacingAndGlyphs" transform="matrix(1 0 0 .69 435 210)">S</text>
<text class="L cg" textLength="7.2" lengthAdjust="spacingAndGlyphs" transform="matrix(1 0 0 .83 442.5 200)">S</text>
<text class="L cr" textLength="7.2" lengthAdjust="spacingAndGlyphs" transform="matrix(1 0 0 .69 442.5 205)">R</text>
<text class="L co" textLength="7.2" lengthAdjust="spacingAndGlyphs" transform="matrix(1 0 0 .69 442.5 210)">G</text>
<text class="L cr" textLength="7.2" lengthAdjust="spacingAndGlyphs" transform="matrix(1 0 0 .69 450 200)">R</text>
<text class="L cg" textLength="7.2" lengthAdjust="spacingAndGlyphs" transform="matrix(1 0 0 .69 450 205)">N</text>
<text class="L cg" textLength="7.2" lengthAdjust="spacingAndGlyphs" transform="matrix(1 0 0 .69 450 210)">S</text>
<text class="L cm" textLength="7.2" lengthAdjust="spacingAndGlyphs" transform="matrix(1 0 0 1.53 457.5 200)">D</text>
<text class="L cg" textLength="7.2" lengthAdjust="spacingAndGlyphs" transform="matrix(1 0 0 .69 457.5 205)">N</text>
<text class="L cm" textLength="7.2" lengthAdjust="spacingAndGlyphs" transform="matrix(1 0 0 .69 457.5 210)">E</text>
<text class="L cg" textLength="7.2" lengthAdjust="spacingAndGlyphs" transform="matrix(1 0 0 1.81 465 200)">S</text>
<text class="L cm" textLength="7.2" lengthAdjust="spacingAndGlyphs" transform="matrix(1 0 0 .69 465 205)">E</text>
<text class="L co" textLength="7.2" lengthAdjust="spacingAndGlyphs" transform="matrix(1 0 0 .69 465 210)">G</text>
<text class="L cb" textLength="7.2" lengthAdjust="spacingAndGlyphs" transform="matrix(1 0 0 .56 472.5 200)">W</text>
<text class="L cg" textLength="7.2" lengthAdjust="spacingAndGlyphs" transform="matrix(1 0 0 .69 472.5 205)">S</text>
<text class="L cm" textLength="7.2" lengthAdjust="spacingAndGlyphs" transform="matrix(1 0 0 .69 472.5 210)">D</text>
</g>

<g id="logo4">
<text class="L cg" textLength="7.6" lengthAdjust="spacingAndGlyphs" transform="matrix(1 0 0 1.25 315 266)">S</text>
<text class="L cm" textLength="7.6" lengthAdjust="spacingAndGlyphs" transform="matrix(1 0 0 .83 315 272)">D</text>
<text class="L cg" textLength="7.6" lengthAdjust="spacingAndGlyphs" transform="matrix(1 0 0 .69 315 277)">Q</text>
<text class="L cm" textLength="7.6" lengthAdjust="spacingAndGlyphs" transform="matrix(1 0 0 .69 322.9 271)">E</text>
<text class="L cg" textLength="7.6" lengthAdjust="spacingAndGlyphs" transform="matrix(1 0 0 .83 322.9 277)">S</text>
<text class="L cg" textLength="7.6" lengthAdjust="spacingAndGlyphs" transform="matrix(1 0 0 3.06 330.8 270)">T</text>
<text class="L cg" textLength="7.6" lengthAdjust="spacingAndGlyphs" transform="matrix(1 0 0 .97 330.8 277)">S</text>
<text class="L cg" textLength="7.6" lengthAdjust="spacingAndGlyphs" transform="matrix(1 0 0 3.06 338.7 270)">Q</text>
<text class="L cm" textLength="7.6" lengthAdjust="spacingAndGlyphs" transform="matrix(1 0 0 .97 338.7 277)">E</text>
<text class="L cb" textLength="7.6" lengthAdjust="spacingAndGlyphs" transform="matrix(1 0 0 5.69 346.6 277)">L</text>
<text class="L cg" textLength="7.6" lengthAdjust="spacingAndGlyphs" transform="matrix(1 0 0 2.92 354.5 264)">S</text>
<text class="L cb" textLength="7.6" lengthAdjust="spacingAndGlyphs" transform="matrix(1 0 0 1.81 354.5 277)">M</text>
<text class="L cb" textLength="7.6" lengthAdjust="spacingAndGlyphs" transform="matrix(1 0 0 5.14 362.4 277)">I</text>
<text class="L cg" textLength="7.6" lengthAdjust="spacingAndGlyphs" transform="matrix(1 0 0 3.33 370.3 264)">S</text>
<text class="L cb" textLength="7.6" lengthAdjust="spacingAndGlyphs" transform="matrix(1 0 0 1.81 370.3 277)">M</text>
<text class="L cb" textLength="7.6" lengthAdjust="spacingAndGlyphs" transform="matrix(1 0 0 3.47 378.2 270)">I</text>
<text class="L cb" textLength="7.6" lengthAdjust="spacingAndGlyphs" transform="matrix(1 0 0 .97 378.2 277)">V</text>
<text class="L cy" textLength="7.6" lengthAdjust="spacingAndGlyphs" transform="matrix(1 0 0 4.44 386.1 270)">P</text>
<text class="L cg" textLength="7.6" lengthAdjust="spacingAndGlyphs" transform="matrix(1 0 0 .97 386.1 277)">S</text>
<text class="L cb" textLength="7.6" lengthAdjust="spacingAndGlyphs" transform="matrix(1 0 0 1.11 394 270)">M</text>
<text class="L cy" textLength="7.6" lengthAdjust="spacingAndGlyphs" transform="matrix(1 0 0 .97 394 277)">P</text>
<text class="L cb" textLength="7.6" lengthAdjust="spacingAndGlyphs" transform="matrix(1 0 0 1.11 401.9 270)">A</text>
<text class="L co" textLength="7.6" lengthAdjust="spacingAndGlyphs" transform="matrix(1 0 0 .97 401.9 277)">G</text>
<text class="L cg" textLength="7.6" lengthAdjust="spacingAndGlyphs" transform="matrix(1 0 0 1.53 409.8 268)">S</text>
<text class="L cb" textLength="7.6" lengthAdjust="spacingAndGlyphs" transform="matrix(1 0 0 1.25 409.8 277)">A</text>
<text class="L cg" textLength="7.6" lengthAdjust="spacingAndGlyphs" transform="matrix(1 0 0 1.53 417.7 268)">S</text>
<text class="L cg" textLength="7.6" lengthAdjust="spacingAndGlyphs" transform="matrix(1 0 0 1.25 417.7 277)">N</text>
<text class="L cm" textLength="7.6" lengthAdjust="spacingAndGlyphs" transform="matrix(1 0 0 1.11 425.6 268)">D</text>
<text class="L co" textLength="7.6" lengthAdjust="spacingAndGlyphs" transform="matrix(1 0 0 .63 425.6 272.5)">G</text>
<text class="L cg" textLength="7.6" lengthAdjust="spacingAndGlyphs" transform="matrix(1 0 0 .63 425.6 277)">S</text>
</g>

<!-- panel D -->
<g id="domain-bar">
<rect x="336" y="301.5" width="190" height="10" fill="#c9c9c9" stroke="#333" stroke-width="0.8"/>
<rect x="362" y="301.5" width="21.5" height="10" fill="#1c75bc" stroke="#333" stroke-width="0.8"/>
<text x="372.7" y="309.6" font-size="8" fill="#222" text-anchor="middle">QLQ</text>
<rect x="405" y="301.5" width="21.7" height="10" fill="#f15a29" stroke="#333" stroke-width="0.8"/>
<text x="415.8" y="309.6" font-size="8" fill="#222" text-anchor="middle">WRC</text>
<path d="M425 311.5L384 319.5V322.5M425 311.5L522.7 319.5V322.5" fill="none" stroke="#333" stroke-width="0.8"/>
</g>
<g id="alignment">
<use xlink:href="#base" href="#base" y="323.2"/>
<rect class="nU" x="376" y="323.2" width="6.75" height="9.67"/><text class="nt" x="379.4" y="330.7">U</text>
<use xlink:href="#base" href="#base" y="332.9"/>
<use xlink:href="#base" href="#base" y="342.5"/>
<use xlink:href="#base" href="#base" y="352.2"/>
<use xlink:href="#base" href="#base" y="361.8"/>
<use xlink:href="#base" href="#base" y="371.5"/>
<use xlink:href="#base" href="#base" y="381.2"/>
<rect class="nU" x="470.5" y="381.2" width="6.75" height="9.67"/><text class="nt" x="473.9" y="388.7">U</text>
<use xlink:href="#mir" href="#mir" y="403"/>
<use xlink:href="#mir" href="#mir" y="412.6"/>
<rect class="nU" x="376" y="412.6" width="6.75" height="9.6"/><text class="nt" x="379.4" y="420.1">U</text>
<use xlink:href="#base" href="#base" y="432.3"/>
<rect class="nA" x="463.75" y="432.3" width="6.75" height="9.67"/><text class="nt" x="467.1" y="439.8">A</text>
</g>
<g id="row-labels">
<text class="rl" x="360" y="330.7">EuGRF1</text><text class="pr" x="366.5" y="330.7">5'-</text><text class="pr" x="525" y="330.7">-3'</text>
<text class="rl" x="360" y="340.4">EuGRF2</text><text class="pr" x="366.5" y="340.4">5'-</text><text class="pr" x="525" y="340.4">-3'</text>
<text class="rl" x="360" y="350">EuGRF3</text><text class="pr" x="366.5" y="350">5'-</text><text class="pr" x="525" y="350">-3'</text>
<text class="rl" x="360" y="359.7">EuGRF4</text><text class="pr" x="366.5" y="359.7">5'-</text><text class="pr" x="525" y="359.7">-3'</text>
<text class="rl" x="360" y="369.3">EuGRF6</text><text class="pr" x="366.5" y="369.3">5'-</text><text class="pr" x="525" y="369.3">-3'</text>
<text class="rl" x="360" y="379">EuGRF7</text><text class="pr" x="366.5" y="379">5'-</text><text class="pr" x="525" y="379">-3'</text>
<text class="rl" x="360" y="388.7">EuGRF5</text><text class="pr" x="366.5" y="388.7">5'-</text><text class="pr" x="525" y="388.7">-3'</text>
<text class="rl" x="360" y="410.5">eul-miRNA396a</text><text class="pr" x="366.5" y="410.5">3'-</text><text class="pr" x="518.5" y="410.5">-5'</text>
<text class="rl" x="360" y="420.1">eul-miRNA396b</text><text class="pr" x="366.5" y="420.1">3'-</text><text class="pr" x="518.5" y="420.1">-5'</text>
<text class="rl" x="360" y="439.8">EuGRF8</text><text class="pr" x="366.5" y="439.8">5'-</text><text class="pr" x="525" y="439.8">-3'</text>
</g>
<g id="pairing" class="pair">
<path d="M392.9 392V400M399.6 392V400M406.4 392V400M413.1 392V400M419.9 392V400M426.6 392V400M433.4 392V400M440.1 392V400M446.9 392V400M453.6 392V400M460.4 392V400M467.1 392V400"/>
<path d="M473.9 400L480.6 392M480.6 400L487.4 392M487.4 400L494.1 392M494.1 400L500.9 392M500.9 400L507.6 392M507.6 400L514.4 392M514.4 400L521.1 392"/>
<path d="M392.9 424V431M399.6 424V431M406.4 424V431M413.1 424V431M419.9 424V431M426.6 424V431M433.4 424V431M440.1 424V431M446.9 424V431M453.6 424V431M460.4 424V431"/>
<path d="M467.1 424L473.9 431M473.9 424L480.6 431M480.6 424L487.4 431M487.4 424L494.1 431M494.1 424L500.9 431M500.9 424L507.6 431M507.6 424L514.4 431M514.4 424L521.1 431"/>
</g>
<g id="codons">
<path class="brk" d="M384 443.5V445.5H402V443.5M392.9 445.5V447.5M404.5 443.5V445.5H422V443.5M413.1 445.5V447.5M424.7 443.5V445.5H442V443.5M433.4 445.5V447.5M445 443.5V445.5H462.3V443.5M453.6 445.5V447.5M465.2 443.5V445.5H482.5V443.5M473.9 445.5V447.5M485.5 443.5V445.5H502.8V443.5M494.1 445.5V447.5M505.7 443.5V445.5H523V443.5M514.4 445.5V447.5"/>
<text class="aa" x="392.9" y="456">R</text>
<text class="aa" x="413.1" y="456">S</text>
<text class="aa" x="433.4" y="456">R</text>
<text class="aa" x="453.6" y="456">K</text>
<text class="aa" x="473.9" y="456">—</text>
<text class="aa" x="494.1" y="456">V</text>
<text class="aa" x="514.4" y="456">E</text>
</g>
</svg>
